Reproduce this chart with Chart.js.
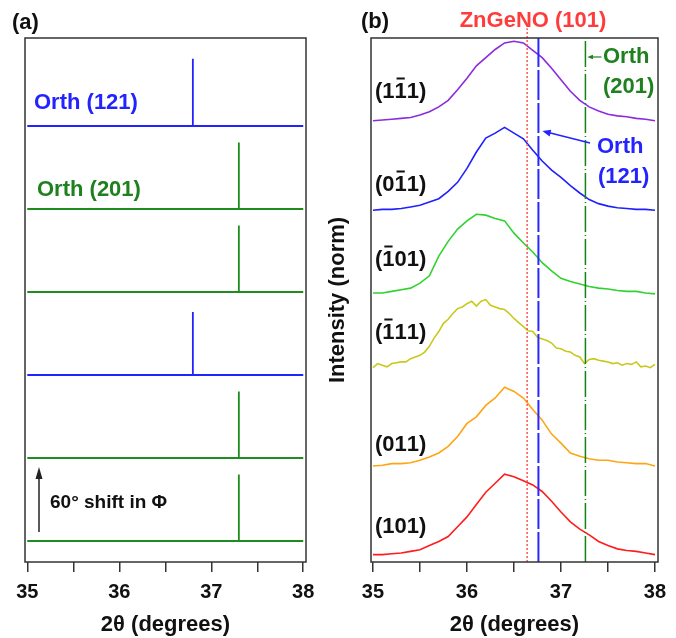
<!DOCTYPE html>
<html lang="en">
<head>
<meta charset="UTF-8">
<script src="https://cdn.jsdelivr.net/npm/chart.js@4.4.0/dist/chart.umd.min.js"></script>
<title>XRD</title>
<style>
  body { margin: 0; background: #fff; }
  #wrap { position: relative; width: 676px; height: 638px; }
  #boxA { position: absolute; left: 0; top: 0; width: 338px; height: 638px; }
  #boxB { position: absolute; left: 316px; top: 0; width: 360px; height: 638px; }
</style>
</head>
<body>
<div id="wrap">
  <div id="boxA"><canvas id="chartA" width="338" height="638"></canvas></div>
  <div id="boxB"><canvas id="chartB" width="360" height="638"></canvas></div>
</div>
<script>
// ---- data ----
const tickValues = [35, 35.5, 36, 36.5, 37, 37.5, 38];
const xRange = [35, 38];

// (a) stick patterns, bottom row first
const stickRows = [0, 1, 2, 3, 4, 5];
const stickPos = [37.30, 37.30, 36.80, 37.30, 37.30, 36.80];
const stickHeight = [0.8, 0.8, 0.76, 0.8, 0.8, 0.81];
const stickPhase = ['201', '201', '121', '201', '201', '121'];

// (b) phi-scan XRD profiles
const twoTheta = [35.0, 35.1, 35.2, 35.3, 35.4, 35.5, 35.6, 35.7, 35.8, 35.9, 36.0,
  36.1, 36.2, 36.3, 36.4, 36.5, 36.6, 36.7, 36.8, 36.9, 37.0,
  37.1, 37.2, 37.3, 37.4, 37.5, 37.6, 37.7, 37.8, 37.9, 38.0];
const twoThetaFine = [35.00, 35.05, 35.10, 35.15, 35.20, 35.25, 35.30, 35.35, 35.40, 35.45,
  35.50, 35.55, 35.60, 35.65, 35.70, 35.75, 35.80, 35.85, 35.90, 35.95,
  36.00, 36.05, 36.10, 36.15, 36.20, 36.25, 36.30, 36.35, 36.40, 36.45,
  36.50, 36.55, 36.60, 36.65, 36.70, 36.75, 36.80, 36.85, 36.90, 36.95,
  37.00, 37.05, 37.10, 37.15, 37.20, 37.25, 37.30, 37.35, 37.40, 37.45,
  37.50, 37.55, 37.60, 37.65, 37.70, 37.75, 37.80, 37.85, 37.90, 37.95, 38.00];

const i101 = [0.09, 0.09, 0.10, 0.11, 0.13, 0.15, 0.20, 0.25, 0.31, 0.43, 0.55,
  0.70, 0.85, 0.96, 1.07, 1.04, 0.99, 0.94, 0.86, 0.74, 0.61,
  0.49, 0.40, 0.33, 0.25, 0.20, 0.16, 0.14, 0.13, 0.11, 0.09];
const i011 = [1.17, 1.18, 1.20, 1.20, 1.21, 1.24, 1.28, 1.33, 1.41, 1.53, 1.69,
  1.77, 1.91, 2.00, 2.13, 2.08, 2.00, 1.86, 1.73, 1.56, 1.45,
  1.33, 1.29, 1.26, 1.24, 1.24, 1.22, 1.21, 1.20, 1.20, 1.17];
const iBar111 = [2.37, 2.42, 2.40, 2.38, 2.42, 2.43, 2.44, 2.44, 2.48, 2.50,
  2.52, 2.56, 2.63, 2.73, 2.81, 2.91, 2.96, 3.03, 3.09, 3.11,
  3.15, 3.18, 3.12, 3.18, 3.20, 3.13, 3.11, 3.09, 3.08, 3.03,
  2.97, 2.92, 2.87, 2.82, 2.81, 2.74, 2.72, 2.70, 2.67, 2.61,
  2.60, 2.57, 2.56, 2.52, 2.50, 2.42, 2.47, 2.48, 2.46, 2.45,
  2.44, 2.42, 2.43, 2.40, 2.42, 2.41, 2.44, 2.38, 2.39, 2.37, 2.41];
const iBar101 = [3.28, 3.28, 3.30, 3.32, 3.34, 3.40, 3.49, 3.73, 3.91, 4.06, 4.16,
  4.24, 4.23, 4.19, 4.16, 4.01, 3.89, 3.78, 3.65, 3.55, 3.46,
  3.42, 3.39, 3.36, 3.34, 3.33, 3.31, 3.30, 3.30, 3.28, 3.27];
const i0Bar11 = [4.29, 4.30, 4.30, 4.31, 4.33, 4.35, 4.39, 4.43, 4.52, 4.63, 4.80,
  5.00, 5.17, 5.23, 5.30, 5.23, 5.16, 5.02, 4.89, 4.78, 4.69,
  4.59, 4.50, 4.42, 4.37, 4.34, 4.32, 4.31, 4.30, 4.30, 4.29];
const i1Bar11 = [5.38, 5.39, 5.40, 5.41, 5.42, 5.45, 5.49, 5.55, 5.63, 5.76, 5.90,
  6.05, 6.15, 6.25, 6.33, 6.35, 6.33, 6.24, 6.15, 6.02, 5.88,
  5.74, 5.63, 5.55, 5.50, 5.46, 5.44, 5.43, 5.41, 5.40, 5.38];

// reference peak positions (2theta)
const refZnGeNO = 36.64;
const refOrth121 = 36.76;
const refOrth201 = 37.26;

// curve labels, '-' marks an overbar on the next digit
const curveLabels = ['(101)', '(011)', '(-111)', '(-101)', '(0-11)', '(1-11)'];

// ---- style ----
const FONT = '"Liberation Sans", Arial, sans-serif';
Chart.defaults.font.family = FONT;
const blueA = 'rgb(35,35,255)';
const greenA = 'rgb(30,140,30)';
const greenText = 'rgb(30,128,30)';
const curveColors = ['#ff1c1c', '#ffa514', '#c9c91c', '#2fd22f', '#2020ff', '#8b2be0'];

function pts(xs, ys) {
  return xs.map((x, i) => ({ x: x, y: ys[i] }));
}

function xScale(min, max) {
  return {
    type: 'linear', min: min, max: max,
    afterBuildTicks: s => { s.ticks = tickValues.map(v => ({ value: v })); },
    afterFit: s => { s.height = 76; },
    ticks: {
      autoSkip: false, maxRotation: 0, padding: 8, color: '#111',
      font: { size: 20, weight: 'bold' },
      callback: v => Number.isInteger(v) ? String(v) : ''
    },
    grid: { drawOnChartArea: false, drawTicks: true, tickLength: 10, color: '#333', lineWidth: 1.5 },
    border: { display: false },
    title: {
      display: true, text: '2θ (degrees)', color: '#111',
      font: { size: 22, weight: 'bold' }, padding: { top: 0, bottom: 0 }
    }
  };
}

const framePlugin = {
  id: 'frame',
  afterDraw(chart) {
    const { ctx, chartArea: a } = chart;
    ctx.save();
    ctx.strokeStyle = '#333';
    ctx.lineWidth = 1.5;
    ctx.strokeRect(a.left, a.top, a.right - a.left, a.bottom - a.top);
    ctx.restore();
  }
};

// ---- (a) ----
const dsA = stickRows.map((r, i) => {
  const p = stickPos[i];
  return {
    data: [{ x: xRange[0], y: r }, { x: p, y: r }, { x: p, y: r + stickHeight[i] }, { x: p, y: r }, { x: xRange[1], y: r }],
    borderColor: stickPhase[i] === '121' ? blueA : greenA,
    borderWidth: 1.8, pointRadius: 0, tension: 0, fill: false
  };
});

const annotA = {
  id: 'annotA',
  afterDraw(chart) {
    const ctx = chart.ctx;
    ctx.save();
    ctx.textBaseline = 'middle';
    ctx.font = 'bold 22px ' + FONT;
    ctx.fillStyle = '#111';
    ctx.fillText('(a)', 12, 23);
    ctx.fillStyle = blueA;
    ctx.fillText('Orth (121)', 34, 103);
    ctx.fillStyle = greenText;
    ctx.fillText('Orth (201)', 37, 190);
    // shift arrow
    ctx.strokeStyle = '#222';
    ctx.fillStyle = '#222';
    ctx.lineWidth = 1.5;
    ctx.beginPath(); ctx.moveTo(39, 532); ctx.lineTo(39, 476); ctx.stroke();
    ctx.beginPath(); ctx.moveTo(39, 467); ctx.lineTo(35.5, 479); ctx.lineTo(42.5, 479); ctx.closePath(); ctx.fill();
    ctx.fillStyle = '#111';
    ctx.font = 'bold 19px ' + FONT;
    ctx.fillText('60° shift in Φ', 50, 503);
    ctx.restore();
  }
};

new Chart(document.getElementById('chartA'), {
  type: 'line',
  data: { datasets: dsA },
  options: {
    responsive: false, animation: false,
    layout: { padding: { left: 25, top: 38, right: 32, bottom: 0 } },
    plugins: { legend: { display: false }, tooltip: { enabled: false } },
    scales: {
      x: xScale(34.975, 38.03),
      y: { display: false, min: -0.253, max: 6.06 }
    }
  },
  plugins: [framePlugin, annotA]
});

// ---- (b) ----
const OFFB = 316;
const dsB = [
  { data: [{ x: refOrth121, y: 0 }, { x: refOrth121, y: 6.39 }], borderColor: 'rgb(40,40,255)', borderWidth: 2, borderDash: [30, 3] },
  { data: [{ x: refOrth201, y: 0 }, { x: refOrth201, y: 6.39 }], borderColor: 'rgb(20,130,20)', borderWidth: 1.5, borderDash: [26, 3, 1, 3] },
  { data: [{ x: refZnGeNO, y: 0 }, { x: refZnGeNO, y: 6.51 }], borderColor: 'rgb(255,85,85)', borderWidth: 1.5, borderDash: [2, 2], clip: false },
  { data: pts(twoTheta, i101), borderColor: curveColors[0] },
  { data: pts(twoTheta, i011), borderColor: curveColors[1] },
  { data: pts(twoThetaFine, iBar111), borderColor: curveColors[2] },
  { data: pts(twoTheta, iBar101), borderColor: curveColors[3] },
  { data: pts(twoTheta, i0Bar11), borderColor: curveColors[4] },
  { data: pts(twoTheta, i1Bar11), borderColor: curveColors[5] }
].map(d => Object.assign({ borderWidth: 1.6, pointRadius: 0, tension: 0, fill: false }, d));

const labelY = [527, 445, 333, 260, 185, 92];

function arrow(ctx, x0, y0, x1, y1, head) {
  const ang = Math.atan2(y1 - y0, x1 - x0);
  ctx.beginPath(); ctx.moveTo(x0, y0);
  ctx.lineTo(x1 - Math.cos(ang) * head * 0.8, y1 - Math.sin(ang) * head * 0.8); ctx.stroke();
  ctx.beginPath(); ctx.moveTo(x1, y1);
  ctx.lineTo(x1 - head * Math.cos(ang - 0.4), y1 - head * Math.sin(ang - 0.4));
  ctx.lineTo(x1 - head * Math.cos(ang + 0.4), y1 - head * Math.sin(ang + 0.4));
  ctx.closePath(); ctx.fill();
}

const annotB = {
  id: 'annotB',
  afterDraw(chart) {
    const ctx = chart.ctx;
    const xs = chart.scales.x;
    ctx.save();
    ctx.translate(-OFFB, 0);
    ctx.textBaseline = 'middle';
    ctx.font = 'bold 22px ' + FONT;
    ctx.fillStyle = '#111';
    ctx.fillText('(b)', 361, 22);
    ctx.fillStyle = 'rgb(255,60,60)';
    ctx.textAlign = 'center';
    ctx.fillText('ZnGeNO (101)', 533, 21);
    ctx.textAlign = 'left';

    // curve labels with overbars
    curveLabels.forEach((lab, i) => {
      let x = 375;
      const y = labelY[i];
      let bar = false;
      ctx.fillStyle = '#111';
      ctx.strokeStyle = '#111';
      for (const ch of lab) {
        if (ch === '-') { bar = true; continue; }
        const w = ctx.measureText(ch).width;
        ctx.fillText(ch, x, y);
        if (bar) {
          ctx.lineWidth = 2;
          ctx.beginPath(); ctx.moveTo(x + 2, y - 13.5); ctx.lineTo(x + w - 2, y - 13.5); ctx.stroke();
          bar = false;
        }
        x += w;
      }
    });

    // Orth (201)
    const gx = xs.getPixelForValue(refOrth201) + OFFB;
    ctx.fillStyle = greenText;
    ctx.strokeStyle = greenText;
    ctx.lineWidth = 1.2;
    arrow(ctx, gx + 16, 57, gx + 2, 57, 6);
    ctx.fillText('Orth', 603, 57);
    ctx.fillText('(201)', 603, 87);

    // Orth (121)
    const bx = xs.getPixelForValue(refOrth121) + OFFB;
    ctx.fillStyle = blueA;
    ctx.strokeStyle = blueA;
    ctx.lineWidth = 1.5;
    arrow(ctx, 590, 143, bx + 4, 131, 9);
    ctx.fillText('Orth', 597, 147);
    ctx.fillText('(121)', 598, 177);
    ctx.restore();
  }
};

new Chart(document.getElementById('chartB'), {
  type: 'line',
  data: { datasets: dsB },
  options: {
    responsive: false, animation: false,
    layout: { padding: { left: 0, top: 38, right: 18, bottom: 0 } },
    plugins: { legend: { display: false }, tooltip: { enabled: false } },
    scales: {
      x: xScale(34.979, 38.032),
      y: {
        min: 0, max: 6.39,
        afterFit: s => { s.width = 55; },
        ticks: { display: false },
        grid: { display: false },
        border: { display: false },
        title: {
          display: true, text: 'Intensity (norm)', color: '#111',
          font: { size: 22, weight: 'bold' }, padding: { top: 9, bottom: 0 }
        }
      }
    }
  },
  plugins: [framePlugin, annotB]
});
</script>
</body>
</html>
